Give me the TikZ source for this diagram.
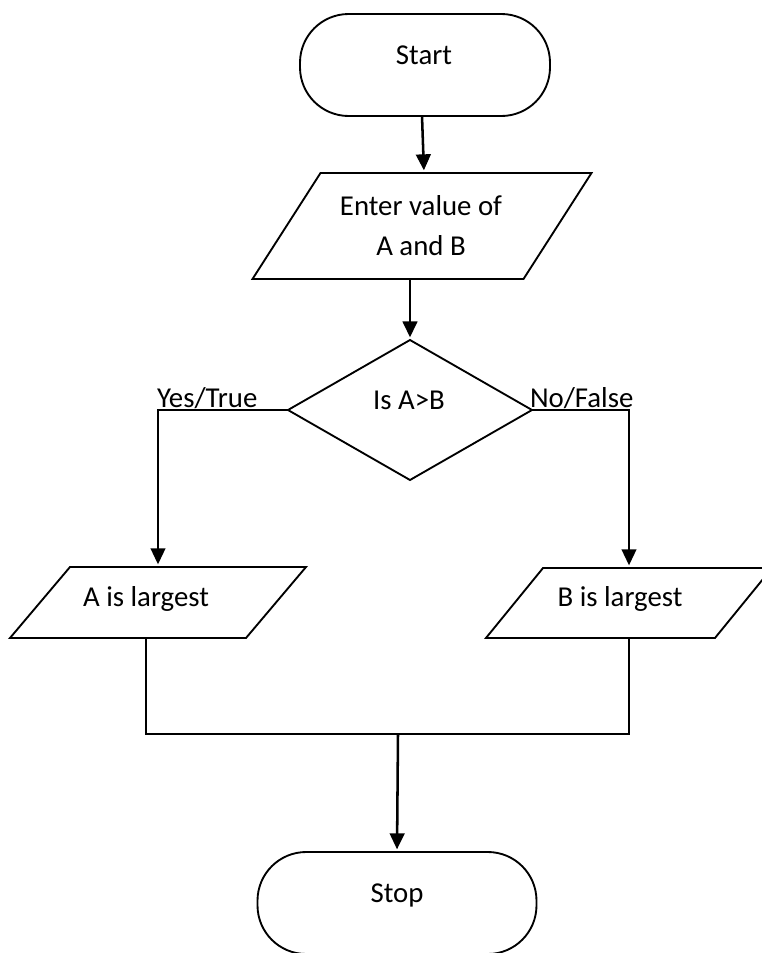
\documentclass[tikz,border=0pt]{standalone}
\usepackage{fontspec}
\setmainfont{Carlito}
\usetikzlibrary{arrows.meta,shapes.geometric}
\newcommand\drawio[2]{%
  \draw[shapeline] ([xshift=#2]#1.north west) -- ([xshift=#2]#1.north east)
    -- ([xshift=-#2]#1.south east) -- ([xshift=-#2]#1.south west) -- cycle;}
\begin{document}
\begin{tikzpicture}[x=0.75pt,y=-0.75pt,
  every node/.style={font=\fontsize{21.6}{30}\selectfont, inner sep=0pt, outer sep=0pt},
  shapeline/.style={draw=black, line width=1.4pt},
  terminal/.style={shapeline, rectangle, rounded corners=36.5pt, minimum width=#1, minimum height=76.5pt},
  decision/.style={shapeline, diamond, minimum width=183pt, minimum height=105pt},
  iobox/.style={rectangle, minimum width=#1},
  arrowline/.style={line width=1.9pt, -{Triangle[length=12pt,width=11pt]}, shorten >=2pt},
  branchline/.style={line width=1.5pt, -{Triangle[length=12pt,width=11pt]}, shorten >=2pt},
  plainline/.style={line width=1.5pt}
]
\fill[white] (0,0) rectangle (762,953);
\useasboundingbox (0,0) rectangle (762,953);

% shapes
\node[terminal=187.5pt] (start) at (425,65) {};
\node[iobox=203.25pt, minimum height=79.5pt] (enter) at (422,226) {};
\drawio{enter}{25.5pt}
\node[decision] (dec) at (410,410) {};
\node[iobox=177pt, minimum height=53.25pt] (A) at (158,602.5) {};
\drawio{A}{22.5pt}
\node[iobox=171.75pt, minimum height=52.5pt] (B) at (629,603) {};
\drawio{B}{21.4pt}
\node[terminal=209.25pt] (stop) at (397,903) {};

% texts
\node[anchor=base] (startT) at (424,64) {Start};
\node[align=center] (enterT) at (421,226) {Enter value of\\A and B};
\node[anchor=base] (decT) at (409,409) {Is A>B};
\node[anchor=base west] (yesT) at (157,407) {Yes/True};
\node[anchor=base west] (noT) at (530,407) {No/False};
\node[anchor=base] (aT) at (146,606) {A is largest};
\node[anchor=base] (bT) at (620,606) {B is largest};
\node[anchor=base] (stopT) at (397,902) {Stop};

% connectors
\coordinate (join) at (398,734);
\draw[arrowline] ([xshift=-2.25pt]start.south) -- ([xshift=1.5pt]enter.north);
\draw[arrowline] (dec.north |- enter.south) -- (dec.north);
\draw[branchline] (dec.west) -| (A.north);
\draw[branchline] (dec.east) -| (B.north);
\draw[plainline] ([xshift=-9pt]A.south) |- (join) -| (B.south);
\draw[arrowline] (join) -- (stop.north);
\end{tikzpicture}
\end{document}
